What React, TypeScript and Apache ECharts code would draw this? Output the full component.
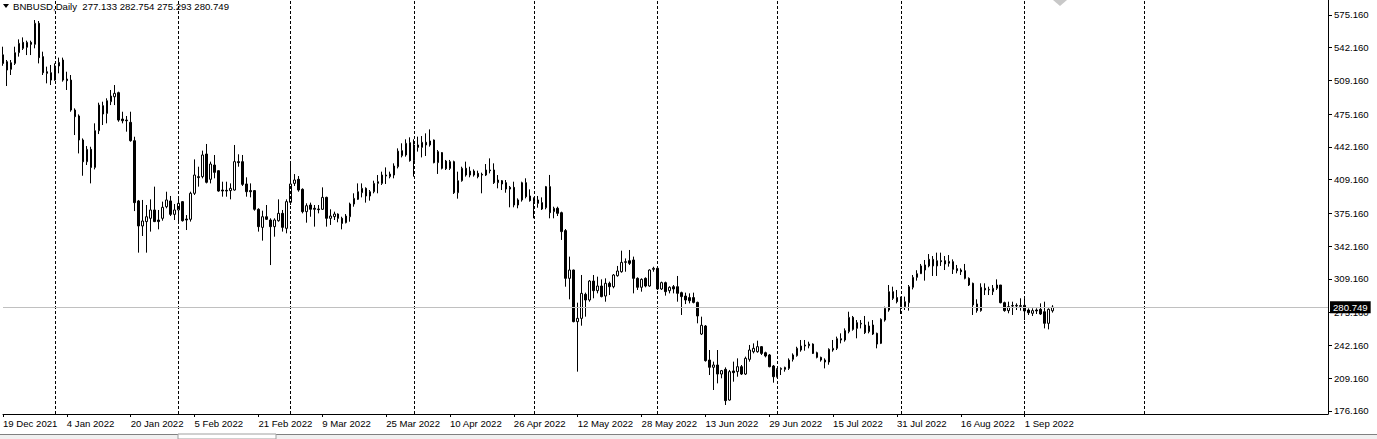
import React, { useEffect, useRef } from "react";
import * as echarts from "echarts";

const startDate = "2021-12-19";
const totalSlots = 333;
const symbolTitle = "BNBUSD,Daily  277.133 282.754 275.293 280.749";
const lastPrice = 280.749;
const priceTicks = [575.16, 542.16, 509.16, 475.16, 442.16, 409.16, 375.16, 342.16, 309.16, 275.16, 242.16, 209.16, 176.16];
const monthStarts = ["1 Jan 2022", "1 Feb 2022", "1 Mar 2022", "1 Apr 2022", "1 May 2022", "1 Jun 2022", "1 Jul 2022", "1 Aug 2022", "1 Sep 2022", "1 Oct 2022"];

const opens = [535, 528.1, 520.4, 526.4, 537.2, 547.6, 542.6, 547.6, 545.6, 566.8, 533.2, 518.0, 517.0, 509.6, 523.8, 529.8, 510.6, 509.6, 479.4, 473.4, 449.2, 427.3, 439.8, 421.6, 458.6, 483.8, 476.0, 487.8, 492.8, 496.9, 470.3, 469.3, 467.0, 448.5, 387.8, 362.6, 367.0, 370.3, 378.7, 368.6, 370.3, 382.0, 387.8, 374.3, 378.7, 387.1, 369.6, 369.3, 395.5, 412.3, 412.3, 435.1, 409.6, 424.0, 418.3, 398.8, 398.5, 398.2, 398.8, 427.4, 427.4, 404.9, 398.2, 398.2, 379.4, 361.2, 371.9, 368.6, 361.9, 367.9, 375.3, 360.2, 386.4, 405.5, 409.6, 399.5, 377.0, 383.7, 380.4, 379.7, 379.4, 391.4, 370.3, 372.0, 374.6, 370.3, 365.9, 371.9, 384.7, 389.4, 396.1, 400.5, 392.8, 397.1, 405.5, 405.5, 413.9, 412.3, 413.9, 422.3, 433.4, 434.1, 446.5, 428.4, 444.2, 441.8, 446.9, 444.2, 449.2, 426.4, 436.5, 428.0, 420.6, 427.4, 396.1, 408.2, 420.7, 413.9, 417.9, 415.6, 414.6, 413.9, 419.0, 419.0, 406.2, 408.2, 406.2, 401.5, 401.5, 383.7, 388.8, 406.2, 392.8, 389.8, 388.8, 386.1, 381.0, 402.2, 377.0, 380.4, 376.0, 357.9, 309.8, 318.2, 266.2, 269.5, 293.7, 288.0, 307.1, 297.4, 302.1, 292.0, 304.8, 301.4, 312.5, 316.5, 325.9, 327.6, 328.3, 309.8, 300.8, 309.8, 302.1, 318.9, 319.9, 299.1, 305.5, 297.4, 301.4, 301.4, 295.4, 292.0, 290.4, 290.4, 285.6, 253.7, 261.8, 227.5, 220.2, 222.5, 213.4, 218.1, 187.2, 216.5, 215.8, 220.8, 213.4, 228.2, 235.9, 235.9, 241.0, 234.9, 232.6, 221.5, 210.7, 218.1, 218.1, 219.1, 228.2, 231.9, 237.6, 241.6, 241.9, 243.6, 234.9, 230.2, 227.5, 225.5, 237.6, 239.3, 249.0, 247.7, 256.1, 270.5, 259.4, 263.8, 262.8, 256.1, 262.8, 254.4, 244.3, 267.8, 277.9, 296.4, 290.4, 289.7, 281.3, 285.3, 300.8, 310.8, 314.5, 318.2, 322.3, 322.3, 322.3, 327.6, 327.6, 325.0, 326.6, 319.6, 318.2, 317.5, 309.8, 304.8, 284.0, 277.3, 299.8, 298.1, 296.4, 299.8, 303.1, 285.3, 277.3, 282.3, 282.0, 282.3, 282.6, 277.9, 274.6, 277.9, 278.6, 276.2, 264.5, 277.133];
const closes = [526.4, 519.7, 527.1, 537.2, 546.6, 541.6, 547.6, 545.6, 566.8, 532.2, 517.0, 516.4, 509.6, 523.8, 527.4, 509.6, 509.0, 479.4, 472.7, 449.2, 427.3, 439.8, 421.6, 458.6, 484.4, 475.4, 488.8, 493.5, 496.2, 469.3, 468.6, 468.6, 448.5, 386.1, 362.6, 367.6, 371.9, 378.7, 367.0, 367.0, 381.4, 388.8, 374.3, 378.7, 385.4, 367.9, 368.6, 395.5, 413.9, 411.3, 434.1, 406.6, 425.0, 416.6, 397.8, 397.8, 397.8, 400.5, 427.4, 426.4, 404.5, 397.1, 397.1, 379.4, 361.9, 371.9, 369.3, 361.9, 368.6, 375.3, 361.2, 387.1, 404.9, 408.9, 398.8, 377.0, 383.0, 379.4, 379.4, 379.0, 391.4, 370.3, 372.6, 374.6, 370.3, 365.2, 372.6, 384.7, 390.4, 397.1, 400.5, 392.8, 397.1, 405.5, 407.2, 413.9, 412.9, 414.9, 423.0, 438.0, 438.5, 445.9, 428.4, 444.2, 441.8, 446.9, 444.2, 448.2, 426.4, 437.5, 420.7, 420.3, 427.4, 396.1, 408.2, 420.7, 413.9, 417.9, 413.9, 412.3, 413.9, 419.0, 418.3, 406.2, 408.9, 404.9, 399.8, 399.8, 383.7, 388.8, 406.2, 392.1, 388.1, 387.1, 385.4, 379.7, 402.2, 376.0, 380.4, 375.3, 356.9, 309.8, 318.2, 266.2, 269.5, 294.7, 288.0, 307.1, 297.4, 302.1, 291.4, 304.8, 301.4, 313.2, 317.2, 325.9, 326.6, 324.9, 309.8, 300.8, 308.8, 302.1, 318.2, 319.9, 299.1, 305.5, 296.4, 300.8, 299.1, 294.7, 291.4, 288.0, 287.3, 285.6, 271.9, 262.5, 226.9, 220.2, 222.5, 213.4, 216.8, 186.6, 215.8, 214.8, 220.8, 213.4, 229.2, 237.6, 239.3, 241.0, 234.2, 231.6, 220.8, 210.7, 218.1, 219.1, 220.1, 227.5, 232.6, 239.3, 241.6, 242.6, 243.6, 234.2, 230.2, 227.5, 225.5, 238.3, 239.3, 249.0, 247.7, 257.1, 270.5, 258.4, 265.2, 264.5, 255.1, 261.8, 253.7, 243.6, 268.5, 279.6, 296.4, 289.7, 286.3, 281.3, 286.3, 301.4, 310.8, 314.5, 322.3, 323.3, 329.0, 329.0, 327.6, 326.6, 324.3, 326.9, 318.9, 317.5, 316.5, 309.8, 303.1, 283.0, 277.3, 300.8, 298.1, 298.7, 299.8, 303.1, 285.3, 277.3, 281.3, 282.0, 282.6, 281.6, 276.9, 275.2, 277.3, 277.0, 273.9, 264.5, 278.6, 280.749];
const lows = [524.0, 503.6, 514.7, 524.8, 533.2, 539.9, 534.8, 534.8, 541.6, 526.4, 514.7, 506.3, 504.6, 509.0, 516.4, 508.0, 499.6, 477.7, 454.2, 435.7, 413.2, 424.0, 405.5, 419.6, 455.2, 464.3, 466.0, 484.4, 484.4, 467.6, 466.0, 457.6, 447.5, 377.6, 335.7, 352.5, 335.7, 356.9, 366.5, 359.2, 367.9, 380.4, 372.6, 368.6, 364.6, 367.0, 358.5, 367.0, 393.8, 402.2, 410.6, 405.5, 405.5, 410.6, 397.1, 392.1, 392.1, 389.4, 398.2, 422.3, 402.9, 392.1, 391.4, 378.0, 356.9, 347.8, 368.6, 323.2, 351.8, 366.9, 356.9, 355.2, 383.7, 402.9, 397.1, 375.3, 365.9, 371.9, 361.9, 375.3, 378.7, 361.9, 363.6, 368.6, 366.3, 359.2, 365.2, 366.9, 382.0, 388.8, 391.4, 386.1, 388.1, 395.5, 395.5, 403.9, 404.9, 410.6, 410.6, 420.6, 431.7, 432.4, 427.4, 412.3, 437.5, 431.7, 433.1, 442.5, 425.7, 415.0, 419.6, 419.0, 419.0, 394.8, 390.1, 407.2, 412.3, 411.6, 412.3, 410.6, 395.5, 412.9, 415.6, 404.9, 400.5, 398.8, 396.1, 381.4, 381.4, 380.4, 387.1, 390.4, 387.1, 370.3, 381.0, 378.7, 379.4, 370.3, 370.3, 372.6, 348.5, 301.4, 288.7, 265.5, 215.8, 262.1, 271.2, 286.3, 289.7, 294.7, 290.7, 286.3, 293.0, 299.8, 311.5, 315.5, 316.5, 323.3, 294.7, 298.1, 296.4, 300.8, 301.4, 316.5, 298.1, 298.1, 292.4, 294.7, 294.7, 286.3, 272.9, 283.9, 284.6, 284.6, 264.5, 252.7, 225.9, 212.4, 197.3, 204.0, 209.1, 182.2, 186.6, 205.7, 210.7, 212.4, 212.4, 225.9, 234.2, 234.9, 232.6, 230.2, 220.2, 204.7, 210.0, 212.4, 215.8, 217.5, 226.0, 230.9, 235.9, 236.9, 239.3, 233.6, 229.2, 225.9, 219.1, 222.8, 235.9, 237.6, 244.3, 246.0, 254.4, 257.1, 249.4, 259.4, 253.7, 254.4, 252.7, 239.3, 243.6, 266.2, 276.2, 288.0, 284.6, 273.9, 277.9, 277.3, 298.7, 307.5, 314.9, 307.5, 320.9, 312.2, 312.2, 322.3, 318.2, 321.6, 314.2, 314.9, 313.2, 308.8, 302.1, 272.9, 275.2, 276.2, 293.0, 293.0, 293.0, 298.1, 284.6, 276.2, 274.6, 272.9, 277.9, 277.3, 267.8, 272.9, 271.9, 273.9, 272.9, 259.4, 258.4, 275.293];
const highs = [543.2, 529.8, 529.8, 543.2, 550.6, 552.6, 549.3, 549.3, 570.1, 569.1, 538.2, 523.1, 524.8, 526.4, 532.2, 532.2, 518.0, 514.7, 481.1, 475.0, 450.8, 443.1, 442.4, 466.0, 486.8, 487.8, 491.2, 499.6, 504.6, 497.9, 477.7, 473.4, 477.7, 452.5, 388.8, 388.8, 383.7, 389.4, 402.2, 378.7, 387.1, 397.1, 392.8, 384.7, 392.1, 387.6, 373.6, 397.1, 429.7, 422.3, 438.5, 445.2, 427.4, 434.1, 418.8, 407.2, 407.2, 405.5, 444.2, 434.8, 434.1, 411.6, 405.5, 398.8, 380.4, 378.0, 383.7, 370.3, 370.3, 389.4, 378.7, 389.4, 427.4, 414.9, 412.9, 400.5, 385.4, 386.1, 383.7, 383.7, 401.5, 392.1, 379.4, 377.0, 375.3, 371.9, 374.6, 386.1, 395.5, 405.5, 405.5, 401.5, 398.8, 408.2, 413.9, 417.3, 421.6, 417.3, 425.7, 440.8, 445.9, 449.9, 451.9, 449.9, 452.6, 453.2, 455.9, 459.9, 449.7, 439.1, 437.0, 429.1, 429.1, 428.4, 417.3, 422.3, 427.4, 422.3, 419.6, 418.3, 416.3, 425.0, 430.7, 425.7, 413.9, 408.9, 408.9, 402.9, 407.2, 390.4, 407.2, 410.6, 399.5, 391.4, 392.8, 391.4, 402.9, 414.0, 382.0, 382.0, 377.0, 359.5, 331.7, 318.6, 285.3, 313.2, 295.4, 308.1, 313.2, 311.5, 308.8, 309.8, 306.5, 314.2, 322.3, 337.7, 329.9, 338.4, 331.7, 310.8, 309.8, 310.8, 318.9, 321.5, 321.6, 306.5, 306.5, 301.8, 303.1, 312.2, 296.4, 295.4, 294.7, 295.4, 286.3, 271.2, 262.8, 237.6, 225.9, 237.6, 217.5, 220.1, 217.5, 225.9, 229.2, 222.5, 230.9, 242.7, 244.3, 247.0, 241.6, 235.9, 233.6, 222.5, 219.1, 220.1, 220.8, 229.2, 234.2, 240.9, 247.7, 247.7, 246.0, 244.3, 235.9, 230.9, 229.2, 239.3, 247.7, 251.1, 254.4, 259.4, 276.2, 271.9, 267.8, 267.8, 271.9, 266.2, 267.8, 255.1, 269.5, 281.3, 303.1, 301.4, 298.1, 291.4, 291.4, 303.1, 313.2, 318.0, 324.3, 328.3, 334.3, 332.3, 335.7, 335.7, 332.3, 333.3, 328.9, 323.3, 319.9, 324.3, 310.8, 305.5, 288.7, 304.8, 304.8, 301.4, 303.1, 308.8, 303.1, 286.3, 286.3, 286.3, 284.6, 289.7, 289.7, 279.6, 279.6, 279.6, 284.6, 286.3, 279.6, 282.754];

const MONTHS = ["Jan", "Feb", "Mar", "Apr", "May", "Jun", "Jul", "Aug", "Sep", "Oct", "Nov", "Dec"];
function buildDates(): string[] {
  const out: string[] = [];
  const base = new Date(startDate + "T00:00:00Z").getTime();
  for (let i = 0; i < totalSlots; i++) {
    const d = new Date(base + i * 86400000);
    out.push(`${d.getUTCDate()} ${MONTHS[d.getUTCMonth()]} ${d.getUTCFullYear()}`);
  }
  return out;
}

const FONT = "Tahoma, 'Liberation Sans', Arial, sans-serif";
const FS = 9.6;

export default function App() {
  const ref = useRef<HTMLDivElement>(null);
  useEffect(() => {
    if (!ref.current) return;
    const chart = echarts.init(ref.current, undefined, { renderer: "svg" });
    const dates = buildDates();
    const n = opens.length;
    const candles = dates.map((_, i) =>
      i < n ? [opens[i], closes[i], lows[i], highs[i]] : "-"
    );
    const labelIdx = (idx: number) => idx % 16 === 0 && idx < n;
    chart.setOption({
      animation: false,
      backgroundColor: "#ffffff",
      grid: { left: 0, top: 0, right: 49, bottom: 25, containLabel: false },
      xAxis: {
        type: "category",
        data: dates,
        boundaryGap: false,
        axisLine: { lineStyle: { color: "#000", width: 1 } },
        axisTick: { show: true, interval: (i: number) => labelIdx(i), length: 3, inside: false, lineStyle: { color: "#000" } },
        axisLabel: {
          interval: (i: number) => labelIdx(i),
          align: "left",
          margin: 4,
          padding: [0, 0, 0, 0],
          color: "#000",
          fontSize: FS,
          fontFamily: FONT,
        },
        splitLine: { show: false },
      },
      yAxis: {
        type: "value",
        position: "right",
        min: 173.13,
        max: 590.27,
        scale: true,
        axisLine: { show: true, lineStyle: { color: "#000", width: 1 } },
        axisTick: { show: true, length: 4, customValues: priceTicks, lineStyle: { color: "#000" } },
        axisLabel: {
          customValues: priceTicks,
          formatter: (v: number) => v.toFixed(3),
          margin: 6,
          color: "#000",
          fontSize: FS,
          fontFamily: FONT,
        },
        splitLine: { show: false },
      },
      series: [
        {
          type: "candlestick",
          data: candles,
          barWidth: 2,
          clip: true,
          itemStyle: {
            color: "#ffffff",
            color0: "#000000",
            borderColor: "#000000",
            borderColor0: "#000000",
            borderWidth: 1,
          },
          markLine: {
            silent: true,
            symbol: ["none", "none"],
            animation: false,
            data: [
              ...monthStarts.map((m) => ({
                xAxis: m,
                lineStyle: { color: "#000", type: [3, 2], width: 1 },
                label: { show: false },
              })),
              {
                yAxis: lastPrice,
                lineStyle: { color: "#c0c0c0", type: "solid", width: 1 },
                label: {
                  show: true,
                  position: "end",
                  distance: 2,
                  formatter: lastPrice.toFixed(3),
                  backgroundColor: "#000",
                  color: "#fff",
                  padding: [1, 3, 1, 3],
                  fontSize: FS,
                  fontFamily: FONT,
                },
              },
            ],
          },
        },
      ],
      graphic: [
        { type: "polygon", shape: { points: [[3, 4], [9, 4], [6, 8]] }, style: { fill: "#000" } },
        { type: "text", x: 13, y: 1, style: { text: symbolTitle, fill: "#000", fontSize: FS, fontFamily: FONT } },
        { type: "polygon", shape: { points: [[1053, 0], [1067, 0], [1060, 6]] }, style: { fill: "#c8c8c8" } },
        { type: "rect", shape: { x: 0, y: 434, width: 1377, height: 5 }, style: { fill: "#f0f0f0" } },
        { type: "line", shape: { x1: 0, y1: 434.5, x2: 178, y2: 434.5 }, style: { stroke: "#808080", lineWidth: 1 } },
        { type: "line", shape: { x1: 276, y1: 434.5, x2: 1377, y2: 434.5 }, style: { stroke: "#808080", lineWidth: 1 } },
        { type: "rect", shape: { x: 178, y: 434, width: 98, height: 5 }, style: { fill: "#ffffff", stroke: "#a0a0a0", lineWidth: 1 } },
      ],
    });
    return () => chart.dispose();
  }, []);
  return (
    <div
      ref={ref}
      style={{ position: "fixed", left: 0, top: 0, width: 1377, height: 439, background: "#fff" }}
    />
  );
}
